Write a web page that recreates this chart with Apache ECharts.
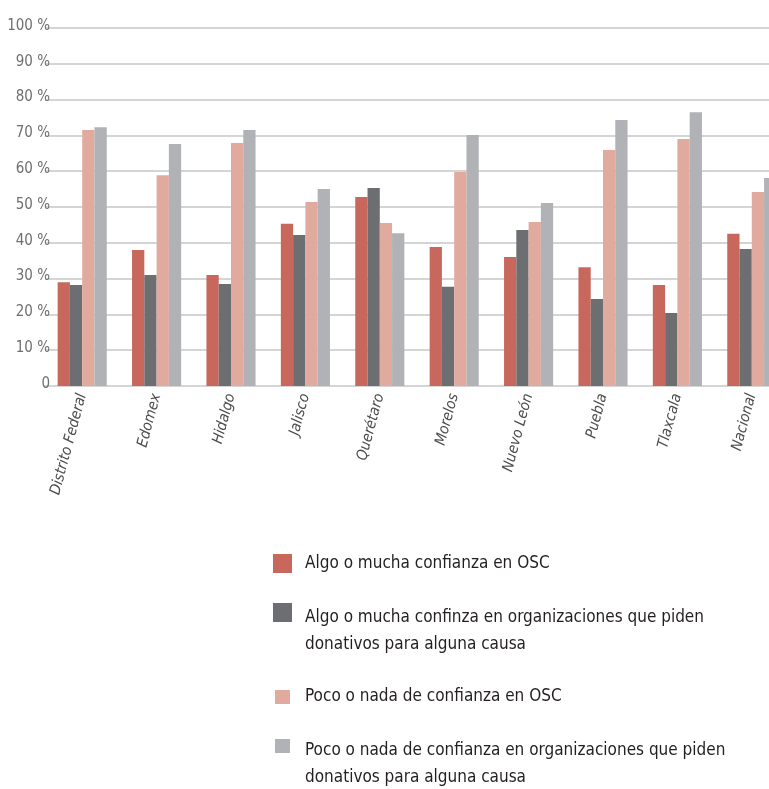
<!DOCTYPE html>
<html>
<head>
<meta charset="utf-8">
<script src="https://cdn.jsdelivr.net/npm/echarts@6/dist/echarts.min.js"></script>
<style>
  html, body { margin: 0; padding: 0; background: #ffffff; }
  #chart { width: 769px; height: 789px; }
</style>
</head>
<body>
<div id="chart"></div>
<script>
// Estados y total nacional
const categories = ['Distrito Federal', 'Edomex', 'Hidalgo', 'Jalisco', 'Querétaro',
  'Morelos', 'Nuevo León', 'Puebla', 'Tlaxcala', 'Nacional'];

// Porcentajes por serie
const algoMuchaOSC = [29.0, 38.0, 31.0, 45.3, 52.8, 38.8, 36.0, 33.2, 28.2, 42.5];
const algoMuchaDonativos = [28.2, 31.0, 28.5, 42.2, 55.3, 27.7, 43.6, 24.3, 20.4, 38.3];
const pocoNadaOSC = [71.5, 58.9, 67.9, 51.4, 45.5, 59.8, 45.8, 65.9, 69.0, 54.2];
const pocoNadaDonativos = [72.3, 67.6, 71.5, 55.0, 42.7, 70.1, 51.1, 74.3, 76.5, 58.1];

const seriesNames = [
  'Algo o mucha confianza en OSC',
  'Algo o mucha confinza en organizaciones que piden\ndonativos para alguna causa',
  'Poco o nada de confianza en OSC',
  'Poco o nada de confianza en organizaciones que piden\ndonativos para alguna causa'
];
const seriesData = [algoMuchaOSC, algoMuchaDonativos, pocoNadaOSC, pocoNadaDonativos];
const colors = ['#c8675c', '#6d6e71', '#e1aa9f', '#b1b2b6'];

const yTicks = { min: 0, max: 100, interval: 10 };

const narrow = '"Liberation Sans Narrow", "DejaVu Sans Condensed", "Liberation Sans", sans-serif';
const LINE = 27;
const SPACER = 37;   // empty first row of a wrapped label, taller than a text line

const chart = echarts.init(document.getElementById('chart'), null, { renderer: 'canvas' });

// One legend block per series so each entry sits at its own height;
// the swatch lines up with the first line of a wrapped label.
const swatchTop = [554, 603, 690, 739];
const swatchW = [19, 19, 15, 15];
const swatchH = [19, 19, 14, 14];
const textLeft = 305;

const legends = seriesNames.map((name, i) => {
  const parts = name.split('\n');
  const twoLines = parts.length > 1;
  const h = swatchH[i];
  const blockH = twoLines ? SPACER + LINE * parts.length : LINE;
  const above = blockH / 2 - h / 2;
  const left = i < 2 ? 273 : 275;
  return {
    orient: 'vertical',
    left: left,
    top: swatchTop[i] - above,
    padding: 0,
    icon: 'rect',
    itemWidth: swatchW[i],
    itemHeight: h,
    selectedMode: false,
    data: [name],
    formatter: n => (twoLines
      ? '{s| }\n' + n.split('\n').map(p => '{t|' + p + '}').join('\n')
      : n),
    textStyle: {
      fontFamily: narrow,
      fontSize: 17,
      color: '#231f20',
      lineHeight: LINE,
      padding: [0, 0, 0, textLeft - left - swatchW[i] - 5],
      rich: {
        s: { lineHeight: SPACER, fontSize: 10 },
        t: { lineHeight: LINE, fontSize: 17, fontFamily: narrow, color: '#231f20' }
      }
    }
  };
});

chart.setOption({
  animation: false,
  color: colors,
  legend: legends,
  grid: {
    left: 45, top: 28, width: 744, height: 358,
    containLabel: false,
    outerBoundsMode: 'none'
  },
  xAxis: {
    type: 'category',
    data: categories,
    axisLine: { show: true, lineStyle: { color: '#d5d5d5', width: 2 } },
    axisTick: { show: false },
    axisLabel: {
      interval: 0,
      rotate: 75,
      margin: 8,
      fontFamily: narrow,
      fontStyle: 'italic',
      fontSize: 15,
      color: '#4d4d4d'
    }
  },
  yAxis: {
    type: 'value',
    min: yTicks.min,
    max: yTicks.max,
    interval: yTicks.interval,
    axisLine: { show: false },
    axisTick: { show: false },
    splitLine: { show: true, lineStyle: { color: '#d5d5d5', width: 2 } },
    axisLabel: {
      margin: -5,
      fontFamily: narrow,
      fontSize: 15,
      color: '#6f6f6f',
      verticalAlign: 'bottom',
      lineHeight: 4,
      formatter: v => (v === 0 ? '0' : v + ' %')
    }
  },
  series: seriesNames.map((name, i) => ({
    name: name,
    type: 'bar',
    data: seriesData[i],
    barGap: '0%',
    barCategoryGap: '34%',
    itemStyle: { color: colors[i] }
  }))
});
</script>
</body>
</html>
